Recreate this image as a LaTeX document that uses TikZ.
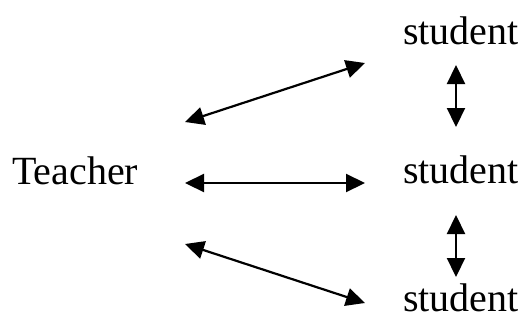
\documentclass[tikz,border=0pt]{standalone}
\usepackage{fontspec}
\setmainfont{Liberation Serif}
\usetikzlibrary{arrows.meta}
\tikzset{word/.style = {inner sep=0pt, anchor=base west, font=\fontsize{40}{44}\selectfont},
  link/.style = {draw, line width=2.2pt, {Triangle[length=19pt,width=18pt]}-{Triangle[length=19pt,width=18pt]}}}

\begin{document}
\begin{tikzpicture}[x=1pt,y=-1pt]
\useasboundingbox (0,0) rectangle (523,322);
\node (teacher) at (12,184) [word] {Teacher};
\node (stuA) at (403,44) [word] {student};
\node (stuB) at (403,183) [word] {student};
\node (stuC) at (403,311) [word] {student};
% arrow ends
\coordinate (tA) at (185,122);
\coordinate (tB) at (185,183);
\coordinate (tC) at (185,244);
\coordinate (sA) at (365,63);
\coordinate (sB) at (365,183);
\coordinate (sC) at (365,303);
\coordinate (abTop) at (456,65);
\coordinate (abBot) at (456,127);
\coordinate (bcTop) at (456,215);
\coordinate (bcBot) at (456,277);
% draw lines
\path [link] (tA) -- (sA);
\path [link] (tB) -- (sB);
\path [link] (tC) -- (sC);
\path [link] (abTop) -- (abBot);
\path [link] (bcTop) -- (bcBot);
\end{tikzpicture}
\end{document}
